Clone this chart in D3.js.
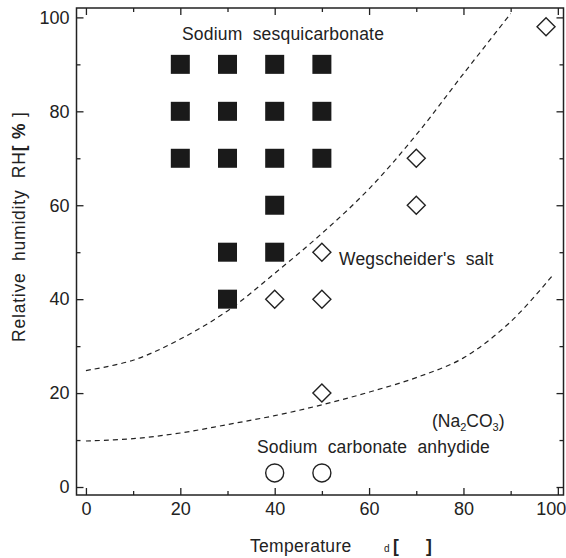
<!DOCTYPE html>
<html>
<head>
<meta charset="utf-8">
<script src="https://cdn.jsdelivr.net/npm/d3@7"></script>
<style>
    body { margin: 0; background: #fff; }
    svg { display: block; font-family: "Liberation Sans", Arial, sans-serif; }
    .pre { white-space: pre; }
</style>
</head>
<body>
<svg id="chart" width="566" height="558"></svg>
<script>
// chart values
const xTicks = [0, 20, 40, 60, 80, 100];
const yTicks = [0, 20, 40, 60, 80, 100];
const minorTicks = [10, 30, 50, 70, 90];

// sodium sesquicarbonate (filled squares): [temperature, RH]
const sesquiPoints = [
    [20, 90], [30, 90], [40, 90], [50, 90],
    [20, 80], [30, 80], [40, 80], [50, 80],
    [20, 70], [30, 70], [40, 70], [50, 70],
    [40, 60], [30, 50], [40, 50], [30, 40]
];
// Wegscheider's salt (open diamonds)
const wegPoints = [[97.5, 98], [70, 70], [70, 60], [50, 50], [40, 40], [50, 40], [50, 20]];
// sodium carbonate anhydride (open circles)
const anhPoints = [[40, 3], [50, 3]];

// boundary curves (dashed)
const upperCurve = [[0, 24.8], [10, 27], [20, 31.5], [30, 37.5], [40, 45.5], [50, 54],
    [60, 63.5], [70, 75], [80, 88], [90, 100.8]];
const lowerCurve = [[0, 9.8], [10, 10.3], [20, 11.5], [30, 13.3], [40, 15.2], [50, 17.5],
    [60, 20.2], [70, 23.3], [80, 27.5], [90, 35.2], [99, 45.2]];

function draw() {
    let svg = d3.select("#chart");
    let frame = {left: 76.5, right: 563.5, top: 8, bottom: 495};

    let x = d3.scaleLinear().domain([-2, 101.2]).range([frame.left, frame.right]);
    let y = d3.scaleLinear().domain([-1.7, 102]).range([frame.bottom, frame.top]);

    // ticks on all four sides, pointing inward
    function addAxis(axis, tx, ty) {
        let g = svg.append("g")
            .attr("transform", `translate(${tx},${ty})`)
            .call(axis);
        g.select(".domain").remove();
        g.selectAll("line").attr("stroke", "#222").attr("stroke-width", 1.3);
        g.selectAll("text")
            .attr("fill", "#222")
            .style("font-size", "18px")
            .style("font-family", "Liberation Sans, Arial, sans-serif");
        return g;
    }

    let bottom = addAxis(d3.axisBottom(x).tickValues(xTicks).tickSize(-7).tickPadding(7), 0, frame.bottom);
    // last label sits against the page edge
    bottom.selectAll("text").filter(d => d === 100)
        .attr("text-anchor", "end")
        .attr("dx", 8);
    addAxis(d3.axisBottom(x).tickValues(minorTicks).tickSize(-4).tickFormat(""), 0, frame.bottom);
    addAxis(d3.axisTop(x).tickValues(xTicks).tickSize(-7).tickFormat(""), 0, frame.top);
    addAxis(d3.axisTop(x).tickValues(minorTicks).tickSize(-4).tickFormat(""), 0, frame.top);
    addAxis(d3.axisLeft(y).tickValues(yTicks).tickSize(-7).tickPadding(7), frame.left, 0);
    addAxis(d3.axisLeft(y).tickValues(minorTicks).tickSize(-4).tickFormat(""), frame.left, 0);
    addAxis(d3.axisRight(y).tickValues(yTicks).tickSize(-7).tickFormat(""), frame.right, 0);
    addAxis(d3.axisRight(y).tickValues(minorTicks).tickSize(-4).tickFormat(""), frame.right, 0);

    svg.append("rect")
        .attr("x", frame.left)
        .attr("y", frame.top)
        .attr("width", frame.right - frame.left)
        .attr("height", frame.bottom - frame.top)
        .attr("fill", "none")
        .attr("stroke", "#222")
        .attr("stroke-width", 1.5);

    // dashed boundaries
    let line = d3.line()
        .x(d => x(d[0]))
        .y(d => y(d[1]))
        .curve(d3.curveCatmullRom);

    for (let curve of [upperCurve, lowerCurve]) {
        svg.append("path")
            .datum(curve)
            .attr("fill", "none")
            .attr("stroke", "#222")
            .attr("stroke-width", 1.2)
            .attr("stroke-dasharray", "5,4")
            .attr("d", line);
    }

    let sq = 19;
    svg.append("g").selectAll("rect")
        .data(sesquiPoints)
        .join("rect")
        .attr("x", d => x(d[0]) - sq / 2)
        .attr("y", d => y(d[1]) - sq / 2)
        .attr("width", sq)
        .attr("height", sq)
        .attr("fill", "#1a1a1a");

    let dm = 9;
    svg.append("g").selectAll("path")
        .data(wegPoints)
        .join("path")
        .attr("d", d => {
            let cx = x(d[0]), cy = y(d[1]);
            return `M${cx},${cy - dm}L${cx + dm},${cy}L${cx},${cy + dm}L${cx - dm},${cy}Z`;
        })
        .attr("fill", "#fff")
        .attr("stroke", "#222")
        .attr("stroke-width", 1.4);

    svg.append("g").selectAll("circle")
        .data(anhPoints)
        .join("circle")
        .attr("cx", d => x(d[0]))
        .attr("cy", d => y(d[1]))
        .attr("r", 9)
        .attr("fill", "#fff")
        .attr("stroke", "#222")
        .attr("stroke-width", 1.4);

    // annotations
    let labelSize = "17.5px";
    function label(px, py, txt) {
        return svg.append("text")
            .attr("class", "pre")
            .attr("x", px)
            .attr("y", py)
            .attr("fill", "#222")
            .style("font-size", labelSize)
            .style("letter-spacing", "0.2px")
            .text(txt);
    }
    label(182, 40, "Sodium  sesquicarbonate");
    label(339, 265, "Wegscheider's  salt");
    label(257, 453, "Sodium  carbonate  anhydide");

    let na = svg.append("text")
        .attr("x", 432)
        .attr("y", 427)
        .attr("fill", "#222")
        .style("font-size", labelSize);
    na.append("tspan").text("(Na");
    na.append("tspan").attr("dy", 4).style("font-size", "11px").text("2");
    na.append("tspan").attr("dy", -4).text("CO");
    na.append("tspan").attr("dy", 4).style("font-size", "11px").text("3");
    na.append("tspan").attr("dy", -4).text(")");

    // axis titles
    let xt = svg.append("text")
        .attr("class", "pre")
        .attr("x", 250)
        .attr("y", 552)
        .attr("fill", "#222")
        .style("font-size", labelSize)
        .style("letter-spacing", "0.3px");
    xt.append("tspan").text("Temperature");
    xt.append("tspan").attr("x", 384).style("font-size", "10px").text("d");
    xt.append("tspan").attr("x", 393).style("font-weight", "bold").text("[");
    xt.append("tspan").attr("x", 426).style("font-weight", "bold").text("]");

    let yt = svg.append("text")
        .attr("class", "pre")
        .attr("transform", "translate(25,342) rotate(-90)")
        .attr("fill", "#222")
        .style("font-size", labelSize)
        .style("letter-spacing", "0.8px");
    yt.append("tspan").text("Relative  humidity  RH");
    yt.append("tspan").style("font-weight", "bold").text("[ %");
    yt.append("tspan").text(" ]");
}

draw();
</script>
</body>
</html>
